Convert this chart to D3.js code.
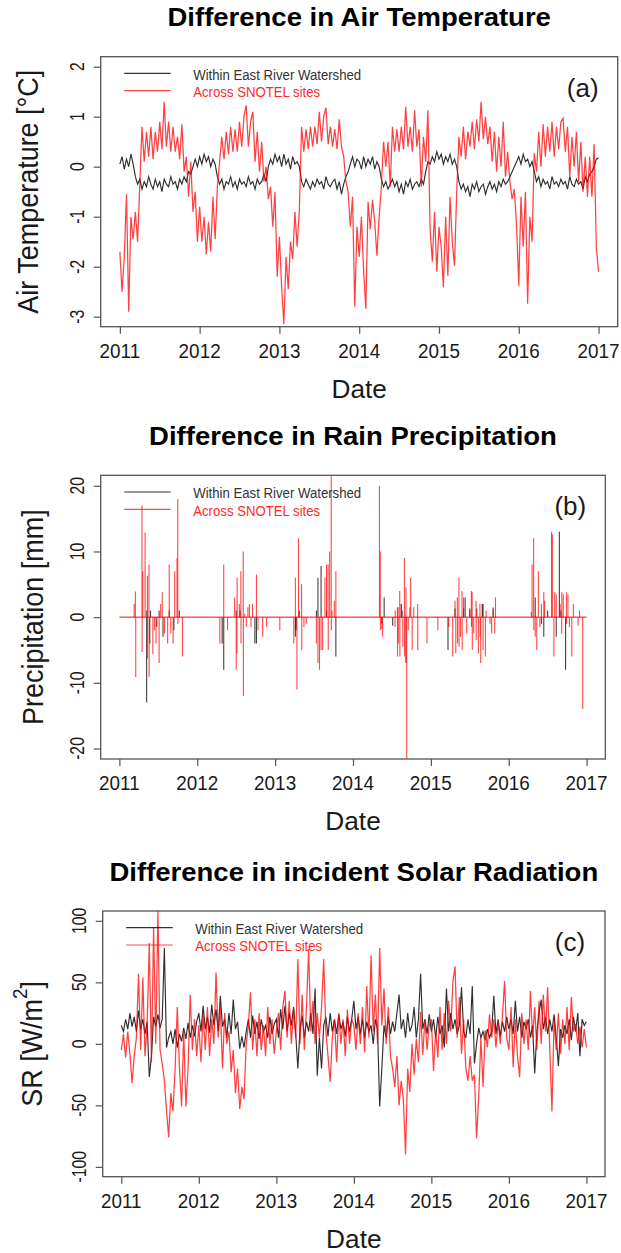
<!DOCTYPE html>
<html>
<head>
<meta charset="utf-8">
<script src="https://cdn.jsdelivr.net/npm/d3@7"></script>
<style>
  body { margin: 0; background: #fff; }
  svg { display: block; font-family: "Liberation Sans", Arial, sans-serif; }
</style>
</head>
<body>
<div id="chart"></div>
<script>
// ---- data ----
var years = [2011, 2012, 2013, 2014, 2015, 2016, 2017];
var seriesNames = ["Within East River Watershed", "Across SNOTEL sites"];

// air temperature difference [°C], ~10 day samples from 2011-01-01 to 2017-01-01
var airWithin = [
  0.05, 0.2, -0.05, 0.15, 0.0, 0.25, 0.05, -0.2, -0.35, -0.25, -0.45, -0.3, -0.4, -0.2, -0.35, -0.45, -0.25, -0.4, -0.3, -0.5, -0.25, -0.35, -0.4, -0.2, -0.35, -0.3, -0.45, -0.25, -0.35, -0.2, -0.3, -0.1, -0.15, 0.0, 0.15, 0.0,
  0.2, 0.05, 0.25, 0.1, 0.2, 0.0, 0.15, 0.05, -0.2, -0.35, -0.25, -0.45, -0.3, -0.35, -0.2, -0.4, -0.3, -0.45, -0.25, -0.35, -0.3, -0.4, -0.2, -0.35, -0.3, -0.45, -0.25, -0.35, -0.3, -0.15, -0.3, 0.0, 0.15, 0.05, 0.25, 0.1,
  0.2, 0.0, 0.25, 0.05, 0.15, -0.05, 0.2, 0.05, 0.1, 0.0, -0.3, -0.4, -0.25, -0.35, -0.45, -0.3, -0.4, -0.25, -0.35, -0.3, -0.45, -0.2, -0.35, -0.4, -0.3, -0.25, -0.45, -0.3, -0.55, -0.35, -0.2, -0.1, 0.05, 0.2, 0.0, 0.15,
  0.1, -0.05, 0.2, 0.0, 0.15, 0.05, 0.2, -0.05, 0.1, 0.0, -0.25, -0.4, -0.3, -0.45, -0.35, -0.25, -0.4, -0.3, -0.5, -0.35, -0.55, -0.3, -0.4, -0.25, -0.45, -0.35, -0.3, -0.4, -0.25, -0.35, -0.1, 0.1, 0.05, 0.2, 0.1, 0.3,
  0.15, 0.25, 0.05, 0.2, 0.1, 0.25, 0.05, 0.15, 0.0, -0.3, -0.45, -0.35, -0.5, -0.4, -0.6, -0.35, -0.45, -0.3, -0.5, -0.4, -0.35, -0.55, -0.4, -0.3, -0.45, -0.35, -0.5, -0.3, -0.4, -0.25, -0.35, -0.3, -0.2, -0.1, 0.0, 0.1,
  0.2, 0.05, 0.25, 0.1, 0.15, 0.0, 0.1, -0.1, -0.3, -0.2, -0.4, -0.25, -0.35, -0.3, -0.45, -0.2, -0.35, -0.3, -0.4, -0.25, -0.35, -0.3, -0.45, -0.2, -0.35, -0.4, -0.25, -0.35, -0.3, -0.45, -0.2, -0.3, -0.15, -0.1, 0.0, 0.15, 0.18
];
var airAcross = [
  -1.7, -2.5, -1.8, -0.55, -2.9, -1.0, -1.45, -0.9, -1.5, -0.35, 0.8, 0.1, 0.7, 0.2, 0.8, 0.15, 0.7, 0.3, 0.9, 0.35, 1.3, 0.4, 0.9, 0.3, 0.8, 0.3, 0.6, 0.15, 0.85, -0.1, 0.2, -0.6, 0.1, -0.9, -0.5, -1.5,
  -0.8, -1.5, -1.0, -1.75, -1.1, -1.7, -0.6, -1.45, -0.4, 0.1, 0.6, 0.15, 0.7, 0.25, 0.8, 0.3, 0.75, 0.3, 0.9, 0.4, 1.0, 1.23, 0.4, 0.9, 1.1, 0.1, 0.7, -0.1, 0.5, -0.3, 0.0, -0.65, -0.4, -1.2, -0.5, -2.2,
  -1.4, -2.4, -3.15, -1.8, -2.45, -1.5, -1.85, -0.9, -1.6, -0.85, 0.8, 0.3, 0.75, 0.35, 0.8, 0.4, 0.8, 0.45, 1.1, 0.5, 1.0, 1.18, 0.45, 0.8, 0.4, 0.75, 0.35, 0.95, 0.4, 0.2, -0.3, -0.5, -1.2, -0.6, -2.8, -1.2,
  -1.8, -1.0, -2.1, -2.84, -0.7, -1.25, -0.66, -1.1, -1.78, -1.0, -0.4, 0.5, 0.0, 0.5, -0.4, 0.8, 0.3, 0.75, 0.3, 0.8, 0.35, 1.2, 0.4, 0.8, 0.3, 1.13, 0.4, 0.75, -0.4, 0.6, 0.1, 1.13, -1.25, -1.9, -0.9, -2.1,
  -1.2, -1.6, -2.41, -1.0, -2.18, -0.6, -1.5, -1.98, -0.5, 0.6, 0.2, 0.8, 0.15, 0.7, 0.4, 0.9, 0.35, 0.95, 0.5, 1.3, 0.55, 1.0, 0.45, 0.8, 0.1, 0.7, -0.1, 0.6, 0.0, 0.9, -0.2, 0.3, -0.3, -0.65, -0.45, -1.18,
  -2.38, -0.6, -1.6, -0.5, -2.74, -1.0, -1.5, 0.27, -0.1, 0.7, 0.0, 0.85, 0.2, 0.8, 0.3, 0.9, 0.2, 0.8, 0.35, 0.9, 0.97, 0.3, 0.8, -0.2, 0.6, 0.0, 0.7, -0.3, 0.5, -0.5, 0.2, -0.6, 0.2, -0.6, 0.45, -1.6, -2.1
];

// rain precipitation difference [mm], only the days that are not zero
var rainWithinDates = [2011.35, 2011.352, 2011.39, 2011.40, 2011.48, 2011.51, 2011.56, 2011.64, 2011.70, 2011.77,
  2012.32, 2012.34, 2012.50, 2012.55, 2012.74, 2012.76,
  2013.26, 2013.27, 2013.31, 2013.53, 2013.55, 2013.59, 2013.66, 2013.78,
  2014.37, 2014.40, 2014.51, 2014.62, 2014.63, 2014.68,
  2015.22, 2015.31, 2015.42, 2015.44, 2015.50, 2015.59, 2015.66, 2015.67, 2015.80,
  2016.34, 2016.42, 2016.45, 2016.50, 2016.61, 2016.65, 2016.67, 2016.73];
var rainWithinValues = [-13, 1, -4, 1, -1.5, 1, -3, 1, -2, 1,
  -4, -8, 1, 1, -4, -4,
  -3, -2, 1, 1, 6, 7.8, 1, -6,
  -1, 3, -1.3, 2, 1, -7,
  -5, 1.3, 1.3, 3, 1.3, 1.3, 2, 2, 1.3,
  3, -1, -3, 1, -3, 13, 1, -8];
var rainAcrossDates = [2011.19, 2011.205, 2011.21, 2011.29, 2011.292, 2011.30, 2011.33, 2011.36, 2011.362, 2011.38, 2011.382, 2011.43, 2011.45, 2011.47, 2011.51, 2011.53, 2011.55, 2011.58, 2011.62, 2011.64, 2011.66, 2011.69, 2011.71, 2011.74, 2011.75, 2011.752, 2011.81,
  2012.29, 2012.34, 2012.39, 2012.48, 2012.50, 2012.51, 2012.512, 2012.54, 2012.56, 2012.562, 2012.59, 2012.592, 2012.61, 2012.63, 2012.65, 2012.67, 2012.69, 2012.71, 2012.76, 2012.78, 2012.84, 2012.89, 2013.06,
  2013.24, 2013.26, 2013.28, 2013.30, 2013.34, 2013.342, 2013.37, 2013.40, 2013.53, 2013.55, 2013.57, 2013.59, 2013.61, 2013.64, 2013.66, 2013.68, 2013.682, 2013.70, 2013.72, 2013.722, 2013.73, 2013.76, 2013.78,
  2014.34, 2014.35, 2014.352, 2014.37, 2014.38, 2014.54, 2014.542, 2014.57, 2014.572, 2014.58, 2014.582, 2014.60, 2014.602, 2014.62, 2014.64, 2014.66, 2014.662, 2014.68, 2014.69, 2014.71, 2014.73, 2014.74, 2014.76, 2014.78, 2014.83, 2014.832, 2014.95, 2015.09,
  2015.23, 2015.28, 2015.31, 2015.32, 2015.34, 2015.342, 2015.36, 2015.362, 2015.38, 2015.40, 2015.402, 2015.42, 2015.46, 2015.50, 2015.52, 2015.522, 2015.53, 2015.532, 2015.55, 2015.58, 2015.582, 2015.61, 2015.63, 2015.632, 2015.64, 2015.67, 2015.70, 2015.71, 2015.76, 2015.78, 2015.80, 2015.82, 2015.83,
  2016.29, 2016.30, 2016.32, 2016.322, 2016.34, 2016.36, 2016.38, 2016.40, 2016.42, 2016.45, 2016.46, 2016.55, 2016.56, 2016.58, 2016.59, 2016.61, 2016.66, 2016.68, 2016.682, 2016.70, 2016.74, 2016.742, 2016.76, 2016.78, 2016.81, 2016.83, 2016.89, 2016.91, 2016.95];
var rainAcrossValues = [2, 3.9, -9.1, 17, -5.3, 7, 12.9, 6.3, -6.3, 8, -9.1, -5.6, -2, -4, -7, 2, 3.8, -2.5, -4, 8, -2.5, -4, 7, 9, 18, -1, -6,
  -4, 8, -2, 3, -8, -5.5, 6, 2, 7, -4, 10, -12, 0.5, -1.5, 1.5, 2, -1.5, 2, 6.5, -2, -3, -1.5, -2,
  -4, 6, -11, 12, 5, -5, -1.5, -1, -4, -7, -8, -5, -5, 6, 8, 8, -5, 10, 22, -2, 1, 2.5, 7,
  20, 10, -2, -1.8, -3, -1.5, 1, 1.5, -6, 1.5, -4, 4, -6, 2, -4.5, 9, -6, 4.5, -23, -2, 1.5, 6, -5, 1.5, 2, -5, -4, -2,
  -1.5, -6, 2.5, -5.5, 3, -4, 6, -4.5, -3, 4, -5, 3, -2.5, 1, 4, -1.5, 3.8, -5, -2.5, 2.5, -3.5, -5.5, 2, -3, -7, -5, -6, 1, -1, -2.5, 1.5, -2.5, 3,
  0.8, 8, 12, -2, -3, -5, 7, -1.5, 2, 3.8, 2.5, 13, 12.6, -6, 3.8, 3.5, 2, -2.5, 3.8, 3.5, 3.8, -1, 3.5, -1.5, -6, 2, -1.3, 1, -14];

// incident solar radiation difference [W/m2], ~10 day samples
var srWithin = [
  15, 10, 20, 12, 25, 14, 22, 10, 27, 12, 20, 8, 18, -27, -10, 22, 14, 24, 13, 20, 78, -3, 5, 10, 0, 12, -3, 8, 2, 13, 4, 17, 5, 15, 6, 18,
  25, 10, 31, 12, 22, 9, 32, 15, 28, 10, 39, 14, 20, 5, 25, 8, 36, 12, 18, -4, 6, -3, 10, 20, 5, 23, 8, 18, 4, 20, 10, 15, 5, 22, 8, 16,
  20, 5, 28, 12, 31, 10, 25, 15, 30, 8, -20, 12, 23, 5, 18, 10, 25, 8, 45, -26, 5, -20, 15, 22, 6, 25, 10, 20, 8, 24, 12, 18, 6, 22, 10, 20,
  35, 12, 22, 8, 20, 5, 18, 10, 15, 0, 20, 12, -51, -20, 15, 5, 22, 8, 18, 10, 25, 40, 12, 20, 5, 25, 10, 15, 30, 5, 20, 57, 12, 20, 8, 24,
  10, 20, 5, 22, 8, 15, -3, 45, 10, 25, 12, 20, 8, 15, 46, 10, 5, 20, 8, 47, -16, 0, 13, 5, 10, 3, 12, 5, 10, 39, 8, 20, 6, 18, 10, 22,
  12, 20, 8, 35, 10, 22, 5, 18, 12, 20, 5, 15, -24, 10, 25, 36, 12, 22, 8, 20, 10, 24, 5, -18, 12, 5, 15, 8, 20, 3, 22, 10, 25, -10, 20, 15, 18
];
var srAcross = [
  -5, 8, -11, 10, -8, -32, -10, 5, 57, -5, 54, -10, 15, 82, -15, 95, 0, 108, -5, -16, -30, -54, -76, -40, -55, -20, 30, -19, -51, 10, -51, -20, 40, -5, 20, -10,
  15, -15, 25, -5, 30, -10, 20, 0, 58, 5, 30, -20, 25, 0, 10, -23, -5, -40, -20, -53, -35, -45, 0, 15, 42, -5, 20, -10, 25, -5, 15, -10, 30, 0, 20, -8,
  10, 25, -5, 30, 43, 5, 35, 0, 28, 5, 69, 0, 40, -5, 30, 77, 10, 35, 0, 25, 5, 30, 69, 10, -10, -31, 5, 20, -15, 25, 0, 20, -10, 28, 0, 20,
  15, -5, 25, 0, 30, -7, 47, 5, 72, 10, 40, 0, 78, 15, 45, 0, 30, -10, -20, -35, -10, -50, -30, -45, -90, -20, -39, 0, -25, 4, -15, 26, -9, 20, -5, 15,
  20, -22, 10, -11, 30, -5, 25, 0, 35, 10, 51, 63, 5, 38, -8, 20, -20, -30, -10, -30, -25, -77, -43, 5, -35, 11, -3, 24, 5, 20, -3, 18, 0, 22, 51, 5,
  -5, 30, -19, 20, -10, -27, 25, 0, 20, -5, 43, 5, 30, -5, 35, 0, 40, 10, 46, -5, -55, 20, -5, 25, -8, 20, 0, 30, -5, 38, 10, 16, 0, 14, -3, 12, -3
];

var airTicks = [-3, -2, -1, 0, 1, 2];
var rainTicks = [-20, -10, 0, 10, 20];
var srTicks = [-100, -50, 0, 50, 100];

// ---- drawing ----
var W = 621, H = 1253;
var colWithin = "#000", colAcross = "#ff0000";

var svg = d3.select("#chart").append("svg")
    .attr("width", W)
    .attr("height", H);

//R style axis range: 4% extra on both ends
function pad(lim){
  var e = (lim[1] - lim[0]) * 0.04;
  return [lim[0] - e, lim[1] + e];
}

//text in a group so that it can be squeezed along its own direction
function label(g, x, y, str, o){
  var t = g.append("g")
      .attr("transform", "translate(" + x + "," + y + ") rotate(" + (o.rot || 0) + ") scale(" + (o.sx || 1) + ",1)")
    .append("text")
      .attr("text-anchor", o.anchor || "middle")
      .attr("dy", "0.35em")
      .attr("font-size", o.size)
      .attr("font-weight", o.weight || "normal")
      .attr("fill", o.fill || "#1a1a1a")
      .text(str);
  return t;
}

function sampleDates(n){
  var y0 = years[0], y1 = years[years.length - 1];
  return d3.range(n).map(function(i){ return y0 + (y1 - y0) * i / (n - 1); });
}

var panels = [
  {title: "Difference in Air Temperature", letter: "(a)", yTitle: "Air Temperature [°C]",
   box: {l: 100.7, r: 617.7, t: 56.7, b: 326.7}, ylim: [-3, 2], ticks: airTicks, yTitleX: 28,
   kind: "line", within: airWithin, across: airAcross},
  {title: "Difference in Rain Precipitation", letter: "(b)", yTitle: "Precipitation [mm]",
   box: {l: 100.7, r: 605.3, t: 475.3, b: 759}, ylim: [-20, 20], ticks: rainTicks, yTitleX: 33,
   kind: "spike"},
  {title: "Difference in incident Solar Radiation", letter: "(c)", yTitle: "SR",
   box: {l: 102.7, r: 605, t: 911, b: 1176.7}, ylim: [-100, 100], ticks: srTicks, yTitleX: 32,
   kind: "line", within: srWithin, across: srAcross}
];

panels.forEach(function(p, pi){
  var b = p.box;
  var x = d3.scaleLinear().domain(pad([years[0], years[years.length - 1]])).range([b.l, b.r]);
  var y = d3.scaleLinear().domain(pad(p.ylim)).range([b.b, b.t]);
  var g = svg.append("g");

  g.append("clipPath").attr("id", "clip" + pi)
    .append("rect").attr("x", b.l).attr("y", b.t).attr("width", b.r - b.l).attr("height", b.b - b.t);
  var plot = g.append("g").attr("clip-path", "url(#clip" + pi + ")");

  if(p.kind == "line"){
    var line = d3.line().x(function(d){ return x(d[0]); }).y(function(d){ return y(d[1]); });
    var dw = sampleDates(p.within.length), da = sampleDates(p.across.length);
    plot.append("path")
      .attr("d", line(p.within.map(function(v, i){ return [dw[i], v]; })))
      .attr("fill", "none").attr("stroke", colWithin).attr("stroke-opacity", 0.82).attr("stroke-width", 1.15);
    plot.append("path")
      .attr("d", line(p.across.map(function(v, i){ return [da[i], v]; })))
      .attr("fill", "none").attr("stroke", colAcross).attr("stroke-opacity", 0.75).attr("stroke-width", 1.25);
  } else {
    //daily rain is zero most days, so each series is a flat line with spikes
    var sets = [
      {dates: rainWithinDates, vals: rainWithinValues, col: colWithin, op: 0.75},
      {dates: rainAcrossDates, vals: rainAcrossValues, col: colAcross, op: 0.72}
    ];
    sets.forEach(function(s){
      plot.selectAll(null)
        .data(s.dates.map(function(d, i){ return {date: d, value: s.vals[i]}; }))
        .join("line")
        .attr("x1", function(d){ return x(d.date); })
        .attr("x2", function(d){ return x(d.date); })
        .attr("y1", y(0))
        .attr("y2", function(d){ return y(d.value); })
        .attr("stroke", s.col).attr("stroke-opacity", s.op).attr("stroke-width", 1.1);
    });
    // the red zero days lie on top of everything else
    plot.append("line")
      .attr("x1", x(years[0])).attr("x2", x(years[years.length - 1]))
      .attr("y1", y(0)).attr("y2", y(0))
      .attr("stroke", colAcross).attr("stroke-width", 1);
  }

  // box
  g.append("rect")
    .attr("x", b.l).attr("y", b.t).attr("width", b.r - b.l).attr("height", b.b - b.t)
    .attr("fill", "none").attr("stroke", "#555").attr("stroke-width", 1.3);

  // tick marks
  var xa = g.append("g").attr("transform", "translate(0," + b.b + ")")
    .call(d3.axisBottom(x).tickValues(years).tickSize(7).tickSizeOuter(0).tickFormat(""));
  var ya = g.append("g").attr("transform", "translate(" + b.l + ",0)")
    .call(d3.axisLeft(y).tickValues(p.ticks).tickSize(7).tickSizeOuter(0).tickFormat(""));
  [xa, ya].forEach(function(a){
    a.select(".domain").remove();
    a.selectAll(".tick line").attr("stroke", "#555").attr("stroke-width", 1.2);
  });

  years.forEach(function(yr){
    label(g, x(yr), b.b + 23.5, String(yr), {size: 21, sx: 0.9});
  });
  p.ticks.forEach(function(v){
    label(g, b.l - 24, y(v), String(v), {size: 21, sx: 0.75, rot: -90});
  });

  // titles
  label(g, (b.l + b.r) / 2, b.t - 39, p.title, {size: 25, sx: 1.1, weight: "bold", fill: "#000"});
  label(g, (b.l + b.r) / 2, b.b + 62, "Date", {size: 25.5, sx: 1.03});
  var yt = label(g, p.yTitleX, (b.t + b.b) / 2, p.yTitle, {size: 29, sx: 0.93, rot: -90});
  if(p.yTitle == "SR"){
    yt.text("SR [W/m");
    yt.append("tspan").attr("font-size", "0.7em").attr("dy", "-0.75em").text("2");
    yt.append("tspan").attr("dy", "0.52em").text("]");
  }
  label(g, b.r - 35, b.t + 31, p.letter, {size: 26});

  // legend
  var cols = [colWithin, colAcross], ops = [0.8, 0.72];
  seriesNames.forEach(function(name, i){
    var ly = b.t + 16.7 + i * 17.3;
    g.append("line")
      .attr("x1", b.l + 23.5).attr("x2", b.l + 70)
      .attr("y1", ly).attr("y2", ly)
      .attr("stroke", cols[i]).attr("stroke-opacity", ops[i]).attr("stroke-width", 1.2);
    label(g, b.l + 92.5, ly + 1, name, {size: 15, sx: 0.88, anchor: "start",
      fill: i == 0 ? "#333" : "#ff2a2a"});
  });
});
</script>
</body>
</html>
